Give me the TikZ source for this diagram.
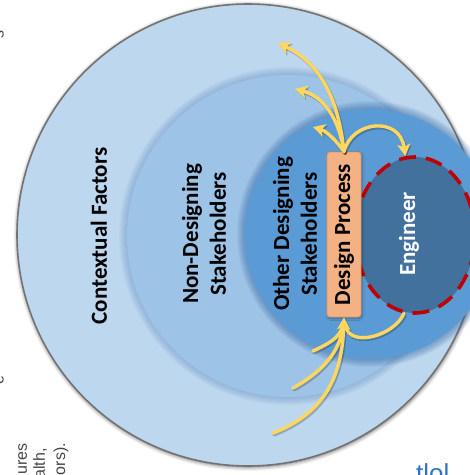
\documentclass[tikz,border=0pt]{standalone}
\usepackage{fontspec}
\setmainfont{Carlito}
\newfontfamily\notefont{Liberation Sans}
\usetikzlibrary{arrows.meta,shadows.blur,shapes.geometric}

\definecolor{ctxblue}{RGB}{189,215,238}
\definecolor{ndsblue}{RGB}{157,195,230}
\definecolor{ndsshade}{RGB}{110,150,200}
\definecolor{odsblue}{RGB}{91,155,213}
\definecolor{odsshade}{RGB}{50,100,160}
\definecolor{engblue}{RGB}{65,113,156}
\definecolor{procfill}{RGB}{244,177,131}
\definecolor{procline}{RGB}{225,150,100}
\definecolor{flowyellow}{RGB}{255,215,95}
\definecolor{dashred}{RGB}{192,0,0}
\definecolor{rimgray}{RGB}{115,115,115}
\definecolor{notegray}{RGB}{70,70,70}
\definecolor{linkblue}{RGB}{45,115,205}

\tikzset{
  ring/.style={circle, inner sep=0pt, minimum size=#1},
  ringtext/.style={font=\fontsize{23}{27.6}\selectfont\bfseries, rotate=90,
    align=center, inner sep=0pt},
  procbox/.style={ringtext, draw=procline, fill=procfill, line width=0.8pt,
    rounded corners=3pt, minimum width=165pt, minimum height=34pt,
    blur shadow={shadow xshift=1pt, shadow yshift=-1.5pt,
      shadow blur radius=2pt, shadow opacity=35}},
  flow/.style={draw=flowyellow, line width=3.4pt, line cap=round},
  flowhead/.style={flow, -{Stealth[length=12pt, width=13pt, inset=3pt]}},
  notetext/.style={font=\notefont\fontsize{16}{19}\selectfont, text=notegray,
    rotate=90, inner sep=0pt},
}

% soft halo just outside a circle: #1 colour, #2 centre, #3 radius
\newcommand\halo[3]{%
  \foreach \k in {1,...,8}
    \fill[#1, opacity=0.07] #2 circle ({#3+\k});
}

% all yellow flows between the design process and its surroundings
\newcommand\flownet{%
  \draw[flowhead] (dp.east) .. controls (338,95) and (318,62) .. (t1);
  \draw[flowhead] (dp.east) .. controls (339,120) and (325,97) .. (t2);
  \draw[flowhead] (dp.east) .. controls (336,140) and (326,131) .. (t3);
  \draw[flowhead] (dp.east) .. controls (352,120) and (400,116) .. (eng.97);
  \draw[flowhead] (b1) .. controls (322,414) and (342,380) .. (dp.west);
  \draw[flow, shorten >=9pt] (b2) .. controls (322,372) and (340,352) .. (dp.west);
  \draw[flow, shorten >=9pt] (b3) .. controls (328,344) and (340,338) .. (dp.west);
  \draw[flow, shorten >=9pt] (eng.262) .. controls (394,336) and (350,348) .. (dp.west);
}

\begin{document}
\begin{tikzpicture}[x=1pt, y=-1pt]
  \useasboundingbox (0,0) rectangle (470,475);
  \clip (0,0) rectangle (470,475);

  % nested spheres of influence
  \node[ring=462pt, fill=ctxblue, draw=rimgray, line width=1.6pt,
    blur shadow={shadow xshift=0.5pt, shadow yshift=-1pt,
      shadow blur radius=4pt, shadow opacity=65}] (ctx) at (248,235) {};
  \halo{ndsshade}{(288,236)}{161}
  \node[ring=322pt, fill=ndsblue] (nds) at (288,236) {};
  \halo{odsshade}{(370,234)}{125}
  \node[ring=250pt, fill=odsblue] (ods) at (370,234) {};
  \node[ellipse, inner sep=0pt, minimum width=120pt, minimum height=156pt,
    fill=engblue, draw=dashred, line width=3.6pt,
    dash pattern=on 17pt off 10pt] (eng) at (415,235) {};

  % design process bar
  \node[procbox] (dp) at (344,234.5) {Design Process};

  % labels
  \node[ringtext] (ctxlabel) at (99,236) {Contextual Factors};
  \node[ringtext] (ndslabel) at (204,234) {Non-Designing\\Stakeholders};
  \node[ringtext] (odslabel) at (295,234) {Other Designing\\Stakeholders};
  \node[ringtext, text=white] (englabel) at (409,234) {Engineer};

  % free ends of the flows
  \coordinate (t1) at (278,43);
  \coordinate (t2) at (295,89);
  \coordinate (t3) at (313,127);
  \coordinate (b1) at (273,433);
  \coordinate (b2) at (293,388);
  \coordinate (b3) at (313,351);

  % flow shadows, then the flows
  \begin{scope}[transform canvas={xshift=1.2pt, yshift=-1.6pt},
      flow/.style={draw=black, opacity=0.22, line width=3.8pt, line cap=round}]
    \flownet
  \end{scope}
  \flownet

  % running text at the page edge
  \node[notetext, anchor=base east] (n1) at (27,443) {ures};
  \node[notetext, anchor=base east] (n2) at (45,448) {alth,};
  \node[notetext, anchor=base east] (n3) at (65,443) {ors).};
  \node[notetext, anchor=base] (n4) at (3.5,34) {s};
  \node[notetext, anchor=base] (n5) at (3.5,380) {e};
  \node[font=\notefont\fontsize{26}{30}\selectfont, text=linkblue,
    anchor=base west, inner sep=0pt] (n6) at (416,482) {tlol};
\end{tikzpicture}
\end{document}
